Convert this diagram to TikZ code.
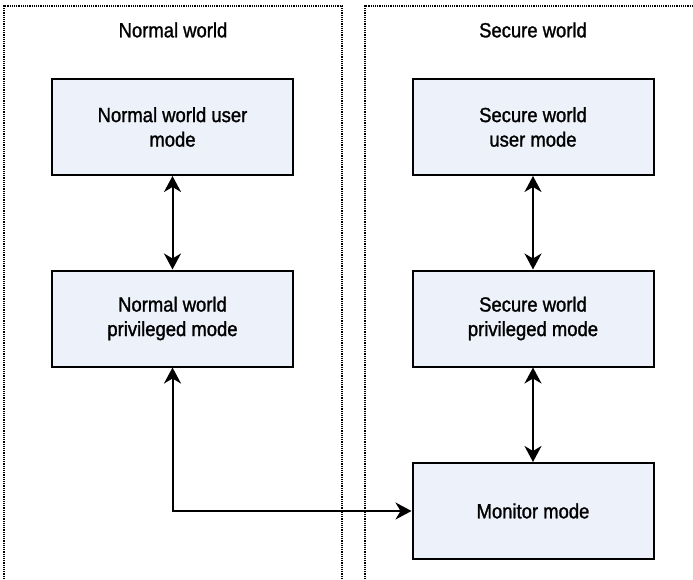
\documentclass[tikz,border=0pt]{standalone}
\usepackage{fontspec}
\setmainfont[FakeStretch=0.9,FakeBold=1.3]{Liberation Sans}
\usetikzlibrary{arrows.meta}
\definecolor{boxfill}{HTML}{EDF2FA}
\tikzset{
  world/.style={draw=black, line width=1.3pt, dash pattern=on 1.2pt off 1pt},
  modebox/.style={draw=black, line width=2pt, fill=boxfill, minimum width=241pt,
    minimum height=96pt, align=center, inner sep=0pt,
    font=\fontsize{20.5}{24.5}\selectfont},
  title/.style={font=\fontsize{20.5}{24.5}\selectfont},
  tip/.style={Stealth[length=16pt,width=17pt,inset=5pt]},
  twoway/.style={line width=2pt, {Stealth[length=16pt,width=17pt,inset=5pt]}-{Stealth[length=16pt,width=17pt,inset=5pt]}}
}
\begin{document}
\begin{tikzpicture}[x=1pt,y=-1pt]
  \useasboundingbox (0,0) rectangle (693,580);
  % the two worlds, open at the bottom and (secure world) at the right
  \draw[world] (4,590) -- (4,6) -- (342,6) -- (342,590);
  \draw[world] (365,590) -- (365,6) -- (700,6);
  \node[title] (tn) at (173,30) {Normal world};
  \node[title] (ts) at (533,30) {Secure world};
  % modes
  \node[modebox] (nu) at (172.5,127) {Normal world user\\mode};
  \node[modebox] (np) at (172.5,318.5) {Normal world\\privileged mode};
  \node[modebox] (su) at (533,127) {Secure world\\user mode};
  \node[modebox] (sp) at (533,318.5) {Secure world\\privileged mode};
  \node[modebox] (mm) at (533,511) {Monitor mode};
  % transitions
  \draw[twoway] (nu) -- (np);
  \draw[twoway] (su) -- (sp);
  \draw[twoway] (sp) -- (mm);
  \draw[twoway] (np.south) |- (mm.west);
\end{tikzpicture}
\end{document}
